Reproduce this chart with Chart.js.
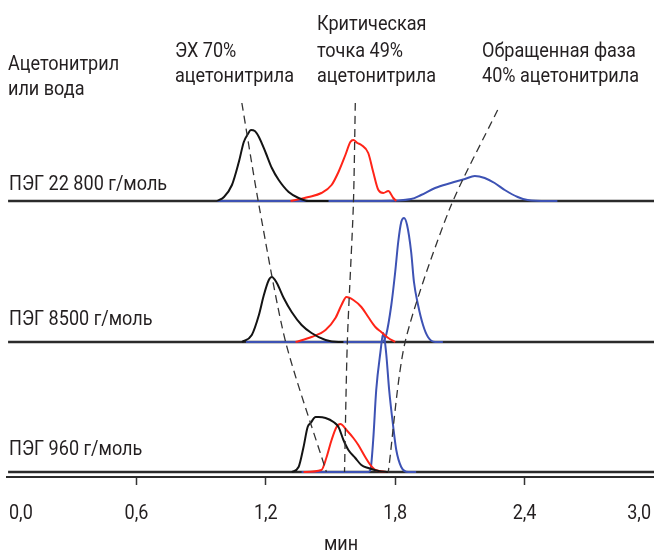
<!DOCTYPE html>
<html>
  <head>
    <meta charset="utf-8" />
    <script src="https://cdn.jsdelivr.net/npm/chart.js"></script>
    <style>
      html, body { margin: 0; padding: 0; background: #fff; }
    </style>
  </head>

  <body>
    <canvas id="chrom" width="654" height="552"></canvas>
  </body>

  <script>
    // x axis, minutes
    const timeTicks = [0, 0.6, 1.2, 1.8, 2.4, 3.0];
    const timeTickLabels = ["0,0", "0,6", "1,2", "1,8", "2,4", "3,0"];
    const timeTitle = "мин";

    const samples = ["ПЭГ 22 800 г/моль", "ПЭГ 8500 г/моль", "ПЭГ 960 г/моль"];

    // PEG 22 800 g/mol
    const peg22800SecTime = [0.974, 1.006, 1.043, 1.075, 1.098, 1.117, 1.131, 1.149, 1.168, 1.2, 1.228, 1.26, 1.306, 1.352, 1.398, 1.491];
    const peg22800SecSignal = [0, 4, 16, 39, 59, 67, 71, 70, 64, 48, 33, 21, 9, 3, 0, 0];
    const peg22800CritTime = [1.315, 1.398, 1.458, 1.505, 1.537, 1.569, 1.592, 1.606, 1.625, 1.643, 1.675, 1.698, 1.722, 1.745, 1.768, 1.791, 1.805];
    const peg22800CritSignal = [0, 4, 8, 16, 29, 46, 59, 61, 58, 56, 48, 29, 11, 8, 10, 3, 0];
    const peg22800RpTime = [0.974, 1.735, 1.874, 1.92, 1.985, 2.058, 2.123, 2.169, 2.215, 2.261, 2.308, 2.368, 2.414, 2.506, 2.552];
    const peg22800RpSignal = [0, 0, 2, 6, 13, 18, 22, 25, 23, 18, 11, 4, 1, 0, 0];

    // PEG 8500 g/mol
    const peg8500SecTime = [1.089, 1.135, 1.168, 1.191, 1.214, 1.228, 1.251, 1.283, 1.32, 1.366, 1.412, 1.477, 1.537, 1.56];
    const peg8500SecSignal = [0, 7, 27, 47, 62, 65, 59, 44, 30, 17, 9, 2, 0, 0];
    const peg8500CritTime = [1.338, 1.412, 1.477, 1.523, 1.551, 1.574, 1.606, 1.643, 1.675, 1.708, 1.735, 1.768, 1.8];
    const peg8500CritSignal = [0, 5, 12, 24, 37, 45, 42, 35, 25, 15, 10, 4, 0];
    const peg8500RpTime = [1.108, 1.74, 1.758, 1.782, 1.8, 1.814, 1.828, 1.841, 1.855, 1.874, 1.887, 1.906, 1.929, 1.952, 1.985, 2.021];
    const peg8500RpSignal = [0, 0, 7, 37, 70, 100, 120, 124, 117, 90, 60, 37, 17, 5, 0, 0];

    // PEG 960 g/mol
    const peg960SecTime = [1.32, 1.352, 1.375, 1.394, 1.408, 1.431, 1.445, 1.477, 1.514, 1.537, 1.56, 1.583, 1.615, 1.643, 1.675, 1.722, 1.768];
    const peg960SecSignal = [0, 5, 25, 45, 49, 55, 55, 54, 50, 45, 32, 22, 14, 7, 4, 1, 0];
    const peg960CritTime = [1.375, 1.458, 1.482, 1.505, 1.528, 1.546, 1.574, 1.606, 1.629, 1.661, 1.685, 1.708, 1.768];
    const peg960CritSignal = [0, 2, 15, 32, 45, 48, 42, 34, 27, 15, 7, 2, 0];
    const peg960RpTime = [1.366, 1.675, 1.685, 1.698, 1.712, 1.731, 1.745, 1.758, 1.772, 1.791, 1.805, 1.828, 1.86, 1.897];
    const peg960RpSignal = [0, 0, 2, 32, 82, 119, 139, 119, 82, 45, 22, 5, 0, 0];

    // dashed guides through the peak maxima (same units as stacked signal)
    const secGuideTime = [1.089, 1.168, 1.292, 1.481];
    const secGuideLevel = [374, 272, 135, 5];
    const critGuideTime = [1.615, 1.606, 1.578, 1.565];
    const critGuideLevel = [374, 272, 135, 5];
    const rpGuideTime = [2.275, 2.054, 1.846, 1.768];
    const rpGuideLevel = [367, 269, 135, 5];

    // layout
    const FONT = "Roboto, 'Liberation Sans', sans-serif";
    const panelLevel = [276, 135, 5];
    const BLACK = "#141414", RED = "#ff2418", BLUE = "#3d52b4";
    const TEXT = "#231f20";

    const captions = [
      ["Критическая", 317, 30],
      ["ЭХ 70%", 175, 57],
      ["точка 49%", 317, 57],
      ["Обращенная фаза", 482, 57],
      ["Ацетонитрил", 8, 70],
      ["ацетонитрила", 175, 82],
      ["ацетонитрила", 317, 82],
      ["40% ацетонитрила", 482, 82],
      ["или вода", 8, 95],
      [samples[0], 9, 190],
      [samples[1], 9, 325],
      [samples[2], 9, 455],
    ];

    function trace(times, signal, level, colour, order) {
      return {
        data: times.map((t, i) => ({ x: t, y: signal[i] + level })),
        borderColor: colour,
        borderWidth: 2,
        pointRadius: 0,
        cubicInterpolationMode: "monotone",
        order: order,
      };
    }

    function guide(times, levels) {
      return {
        data: times.map((t, i) => ({ x: t, y: levels[i] })),
        borderColor: "#333",
        borderWidth: 1.3,
        borderDash: [8, 5],
        pointRadius: 0,
        tension: 0.25,
        order: 1,
      };
    }

    function baseline(level) {
      return {
        data: [{ x: 0.005, y: level }, { x: 3.0, y: level }],
        borderColor: "#2b2b2b",
        borderWidth: 2.5,
        pointRadius: 0,
        order: 10,
      };
    }

    const sets = [
      baseline(panelLevel[0]),
      baseline(panelLevel[1]),
      baseline(panelLevel[2]),
      trace(peg22800RpTime, peg22800RpSignal, panelLevel[0], BLUE, 6),
      trace(peg22800CritTime, peg22800CritSignal, panelLevel[0], RED, 5),
      trace(peg22800SecTime, peg22800SecSignal, panelLevel[0], BLACK, 4),
      trace(peg8500RpTime, peg8500RpSignal, panelLevel[1], BLUE, 6),
      trace(peg8500CritTime, peg8500CritSignal, panelLevel[1], RED, 5),
      trace(peg8500SecTime, peg8500SecSignal, panelLevel[1], BLACK, 4),
      trace(peg960RpTime, peg960RpSignal, panelLevel[2], BLUE, 6),
      trace(peg960CritTime, peg960CritSignal, panelLevel[2], RED, 5),
      trace(peg960SecTime, peg960SecSignal, panelLevel[2], BLACK, 4),
      guide(secGuideTime, secGuideLevel),
      guide(critGuideTime, critGuideLevel),
      guide(rpGuideTime, rpGuideLevel),
    ];

    // condensed text, the original uses a narrow typeface
    function narrowText(c, text, x, y, squeeze, align) {
      c.save();
      c.scale(squeeze, 1);
      c.textAlign = align || "left";
      c.fillText(text, x / squeeze, y);
      c.restore();
    }

    const captionPlugin = {
      id: "captions",
      afterDraw(chart) {
        const c = chart.ctx;
        const xs = chart.scales.x;
        const area = chart.chartArea;
        c.save();
        c.fillStyle = TEXT;
        c.textBaseline = "alphabetic";
        c.font = `21px ${FONT}`;
        for (const [text, x, y] of captions) narrowText(c, text, x, y, 0.86);

        // tick labels: first and last kept inside the frame
        c.font = `20px ${FONT}`;
        timeTicks.forEach((v, i) => {
          let px = xs.getPixelForValue(v);
          let align = "center";
          if (i === 0) { px = area.left + 2; align = "left"; }
          if (i === timeTicks.length - 1) { px = area.right - 3; align = "right"; }
          narrowText(c, timeTickLabels[i], px, 519, 0.9, align);
        });
        narrowText(c, timeTitle, 341, 550, 0.9, "center");
        c.restore();
      },
    };

    const ctx = document.getElementById("chrom").getContext("2d");
    const chart = new Chart(ctx, {
      type: "line",
      data: { datasets: sets },
      plugins: [captionPlugin],
      options: {
        responsive: false,
        animation: false,
        devicePixelRatio: 1,
        layout: { padding: { left: 7, right: 0, top: 97, bottom: 0 } },
        plugins: { legend: { display: false }, tooltip: { enabled: false } },
        scales: {
          x: {
            type: "linear",
            min: 0,
            max: 3.0,
            afterBuildTicks: (s) => { s.ticks = timeTicks.map((v) => ({ value: v })); },
            afterFit: (s) => {
              s.height = 75;
              s.paddingLeft = 0;
              s.paddingRight = 0;
            },
            grid: {
              drawOnChartArea: false,
              tickLength: 8,
              tickWidth: 1.5,
              tickColor: (c) => (c.index === 0 || c.index === timeTicks.length - 1 ? "rgba(0,0,0,0)" : "#333"),
            },
            border: { display: true, color: "#2b2b2b", width: 2 },
            ticks: { display: false },
          },
          y: { display: false, min: 0, max: 380 },
        },
      },
    });
  </script>
</html>
